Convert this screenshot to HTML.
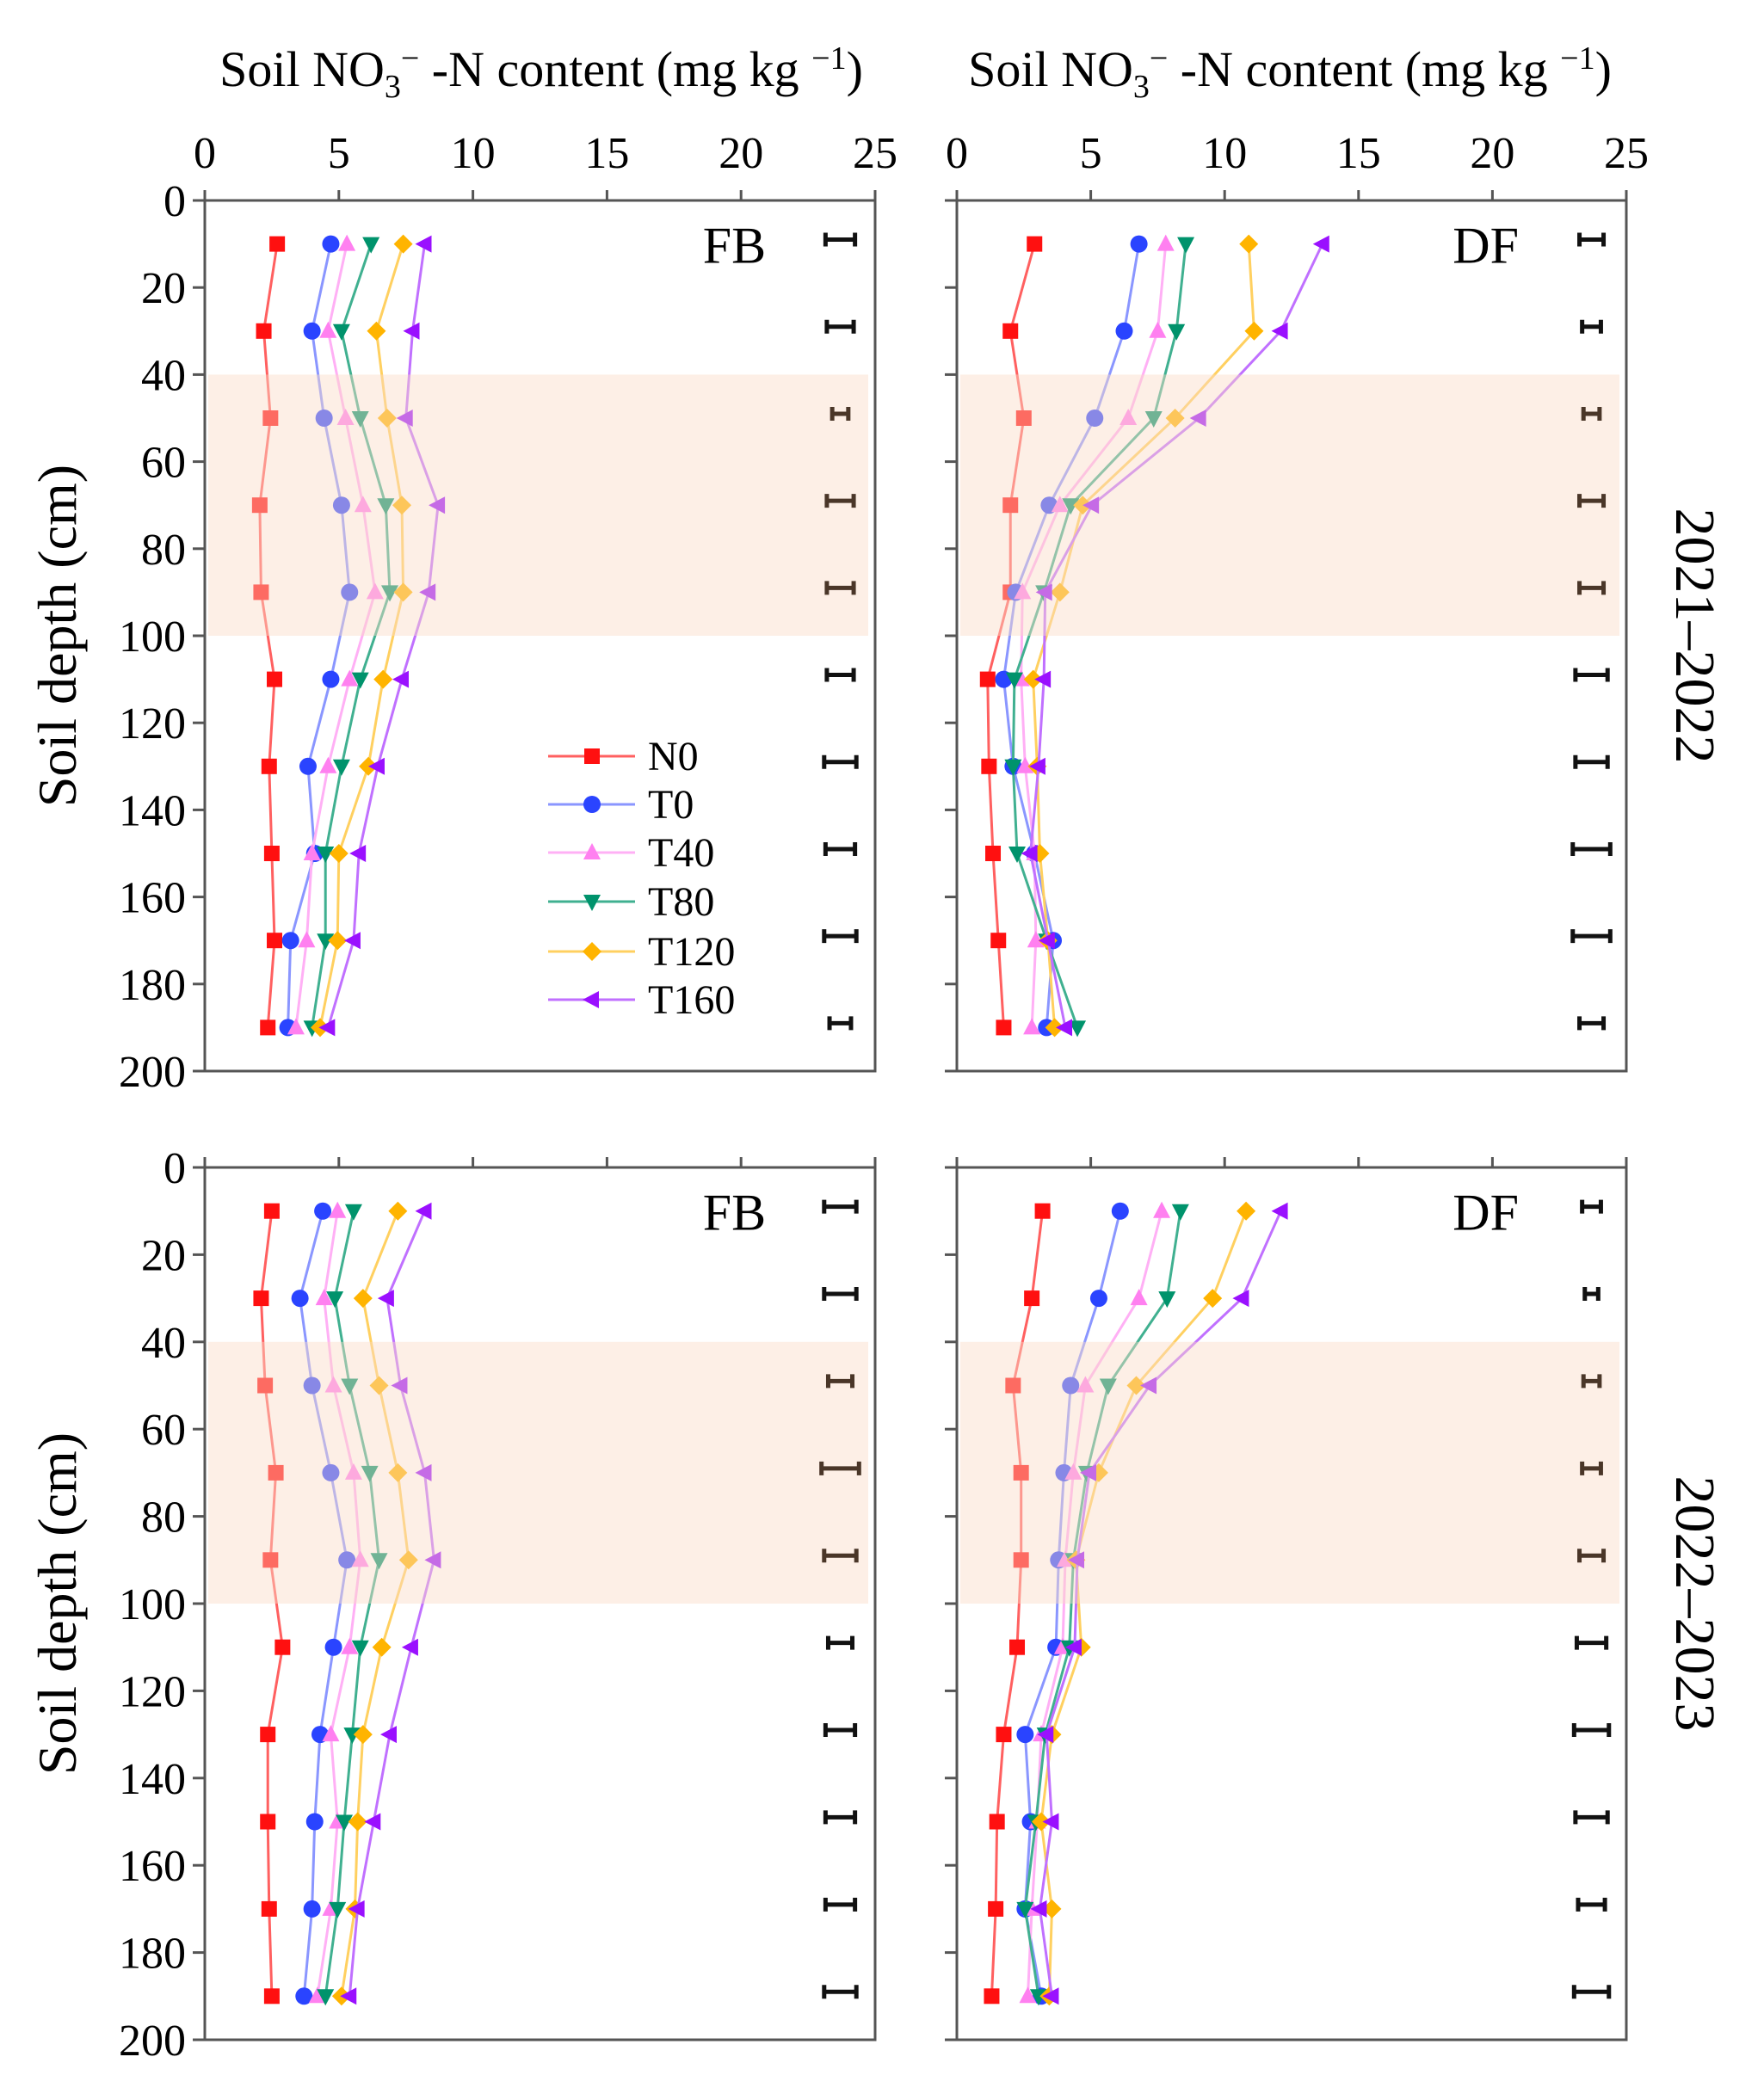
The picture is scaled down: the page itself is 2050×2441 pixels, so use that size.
<!DOCTYPE html>
<html><head><meta charset="utf-8"><style>
html,body{margin:0;padding:0;background:#fff;}
svg, svg text{font-family:"Liberation Serif","Times New Roman",serif;}
</style></head><body>
<svg id="chart" width="2050" height="2436" viewBox="0 0 2050 2436" xmlns="http://www.w3.org/2000/svg" font-family="Liberation Serif, serif">
<text x="629" y="100" font-size="58" text-anchor="middle">Soil NO<tspan font-size="38" dy="13">3</tspan><tspan font-size="38" dy="-33">−</tspan><tspan dy="20"> -N content (mg kg </tspan><tspan font-size="38" dy="-20">−1</tspan><tspan dy="20">)</tspan></text>
<text x="1499" y="100" font-size="58" text-anchor="middle">Soil NO<tspan font-size="38" dy="13">3</tspan><tspan font-size="38" dy="-33">−</tspan><tspan dy="20"> -N content (mg kg </tspan><tspan font-size="38" dy="-20">−1</tspan><tspan dy="20">)</tspan></text>
<text transform="translate(88,739) rotate(-90)" font-size="64" text-anchor="middle">Soil depth (cm)</text>
<text transform="translate(88,1864) rotate(-90)" font-size="64" text-anchor="middle">Soil depth (cm)</text>
<text transform="translate(1948,739) rotate(90)" font-size="66" text-anchor="middle">2021–2022</text>
<text transform="translate(1948,1864) rotate(90)" font-size="66" text-anchor="middle">2022–2023</text>
<g id="plots"></g>
</svg>
<script>
const depths = [10,30,50,70,90,110,130,150,170,190];
const xTicks = [0,5,10,15,20,25];
const yTicks = [0,20,40,60,80,100,120,140,160,180,200];
const seriesNames = ["N0","T0","T40","T80","T120","T160"];
// FB 2021-2022
const fb1_N0   = [2.7,2.2,2.45,2.05,2.1,2.6,2.4,2.5,2.6,2.35];
const fb1_T0   = [4.7,4.0,4.45,5.1,5.4,4.7,3.85,4.1,3.2,3.1];
const fb1_T40  = [5.3,4.6,5.25,5.9,6.35,5.4,4.6,4.0,3.8,3.4];
const fb1_T80  = [6.2,5.1,5.8,6.75,6.9,5.8,5.1,4.5,4.5,4.0];
const fb1_T120 = [7.4,6.4,6.8,7.35,7.4,6.65,6.1,5.0,4.95,4.3];
const fb1_T160 = [8.2,7.75,7.5,8.7,8.35,7.35,6.45,5.75,5.55,4.6];
const fb1_err  = [0.55,0.5,0.3,0.5,0.5,0.5,0.6,0.55,0.6,0.4];
// DF 2021-2022
const df1_N0   = [2.9,2.0,2.5,2.0,2.0,1.15,1.2,1.35,1.55,1.75];
const df1_T0   = [6.8,6.25,5.15,3.45,2.2,1.75,2.1,2.9,3.6,3.35];
const df1_T40  = [7.8,7.5,6.4,3.85,2.45,2.4,2.55,2.9,2.95,2.8];
const df1_T80  = [8.55,8.2,7.35,4.25,3.25,2.15,2.1,2.25,3.35,4.5];
const df1_T120 = [10.9,11.1,8.15,4.7,3.85,2.85,3.0,3.1,3.4,3.65];
const df1_T160 = [13.65,12.1,9.05,5.05,3.3,3.25,3.05,2.75,3.4,4.05];
const df1_err  = [0.45,0.35,0.3,0.45,0.45,0.6,0.6,0.7,0.7,0.45];
// FB 2022-2023
const fb2_N0   = [2.5,2.1,2.25,2.65,2.45,2.9,2.35,2.35,2.4,2.5];
const fb2_T0   = [4.4,3.55,4.0,4.7,5.3,4.8,4.3,4.1,4.0,3.7];
const fb2_T40  = [4.95,4.45,4.8,5.55,5.8,5.4,4.7,4.95,4.7,4.2];
const fb2_T80  = [5.55,4.85,5.4,6.15,6.5,5.8,5.5,5.2,4.95,4.5];
const fb2_T120 = [7.2,5.9,6.5,7.2,7.6,6.6,5.9,5.7,5.6,5.1];
const fb2_T160 = [8.2,6.8,7.3,8.2,8.55,7.7,6.9,6.3,5.7,5.4];
const fb2_err  = [0.6,0.6,0.45,0.7,0.6,0.45,0.55,0.55,0.55,0.6];
// DF 2022-2023
const df2_N0   = [3.2,2.8,2.1,2.4,2.4,2.25,1.75,1.5,1.45,1.3];
const df2_T0   = [6.1,5.3,4.25,4.0,3.8,3.7,2.55,2.75,2.55,3.15];
const df2_T40  = [7.65,6.8,4.8,4.35,4.05,3.95,3.15,3.0,2.8,2.65];
const df2_T80  = [8.35,7.85,5.65,4.85,4.35,4.2,3.3,2.95,2.55,3.05];
const df2_T120 = [10.8,9.55,6.7,5.3,4.45,4.65,3.55,3.15,3.55,3.45];
const df2_T160 = [12.1,10.65,7.2,4.95,4.5,4.4,3.35,3.55,3.1,3.55];
const df2_err  = [0.35,0.25,0.3,0.35,0.45,0.55,0.65,0.6,0.5,0.65];

const NS="http://www.w3.org/2000/svg";
const colors=["#ff1010","#2a44ff","#ff80f0","#00936c","#ffb400","#9a10ff"];
const lineColors=["#ff6060","#8a96ff","#ffb0f5","#40b090","#ffd060","#c070ff"];
function mk(tag,attrs,parent){const e=document.createElementNS(NS,tag);for(const k in attrs)e.setAttribute(k,attrs[k]);parent.appendChild(e);return e;}
const root=document.getElementById('plots');

function drawPanel(p){
  const g=mk('g',{},root);
  
  
  const sx=v=>p.x0+(v/25)*(p.x1-p.x0);
  const sy=d=>p.y0+(d/200)*(p.y1-p.y0);
  p.series.forEach((vals,si)=>{
    const sg=mk('g',{},g);
    
    
    mk('polyline',{points:vals.map((v,i)=>sx(v)+','+sy(depths[i])).join(' '),fill:'none',stroke:lineColors[si],'stroke-width':3},sg);
    vals.forEach((v,i)=>{
      const cx=sx(v),cy=sy(depths[i]),r=9,c=colors[si];let m;
      if(si===0)m=mk('rect',{x:cx-r,y:cy-r,width:2*r,height:2*r,fill:c},sg);
      else if(si===1)m=mk('circle',{cx:cx,cy:cy,r:r+1,fill:c},sg);
      else if(si===2)m=mk('polygon',{points:`${cx},${cy-r-2} ${cx+r+1},${cy+r-1} ${cx-r-1},${cy+r-1}`,fill:c},sg);
      else if(si===3)m=mk('polygon',{points:`${cx},${cy+r+2} ${cx+r+1},${cy-r+1} ${cx-r-1},${cy-r+1}`,fill:c},sg);
      else if(si===4)m=mk('polygon',{points:`${cx},${cy-r-2} ${cx+r+2},${cy} ${cx},${cy+r+2} ${cx-r-2},${cy}`,fill:c},sg);
      else m=mk('polygon',{points:`${cx-r-2},${cy} ${cx+r-1},${cy-r-1} ${cx+r-1},${cy+r+1}`,fill:c},sg);
      
      
    });
  });
  const band=mk('rect',{x:p.x0+4,y:sy(40),width:p.x1-p.x0-12,height:sy(100)-sy(40),fill:'rgb(250,219,199)','fill-opacity':0.45},g);
  
  
  p.err.forEach((e,i)=>{
    const cx=sx(23.7),cy=sy(depths[i]-1),hw=(e/25)*(p.x1-p.x0);
    const col=(depths[i]>40&&depths[i]<100)?'#4a3628':'#111';
    const eb=mk('path',{d:`M${cx-hw},${cy}H${cx+hw}M${cx-hw},${cy-8}V${cy+8}M${cx+hw},${cy-8}V${cy+8}`,stroke:col,'stroke-width':5,fill:'none'},g);
    
    
  });
  const fr=mk('rect',{x:p.x0,y:p.y0,width:p.x1-p.x0,height:p.y1-p.y0,fill:'none',stroke:'#555','stroke-width':3},g);
  
  
  xTicks.forEach(t=>{
    mk('line',{x1:sx(t),x2:sx(t),y1:p.y0,y2:p.y0-12,stroke:'#555','stroke-width':3},g);
    if(p.xlabels){const tx=mk('text',{x:sx(t),y:p.y0-38,'font-size':52,'text-anchor':'middle'},g);tx.textContent=t;
      
      }
  });
  yTicks.forEach(t=>{
    mk('line',{x1:p.x0,x2:p.x0-14,y1:sy(t),y2:sy(t),stroke:'#555','stroke-width':3},g);
    if(p.ylabels){const tx=mk('text',{x:p.x0-22,y:sy(t)+18,'font-size':52,'text-anchor':'end'},g);tx.textContent=t;
      
      }
  });
  const lab=mk('text',{x:p.x0+(p.x1-p.x0)*0.79,y:sy(10)+22,'font-size':60,'text-anchor':'middle'},g);
  lab.textContent=p.label;
  
  
}
drawPanel({name:'panel-fb-2021',key:'fb1',label:'FB',x0:238,x1:1017,y0:233,y1:1245,xlabels:true,ylabels:true,series:[fb1_N0,fb1_T0,fb1_T40,fb1_T80,fb1_T120,fb1_T160],err:fb1_err});
drawPanel({name:'panel-df-2021',key:'df1',label:'DF',x0:1112,x1:1890,y0:233,y1:1245,xlabels:true,ylabels:false,series:[df1_N0,df1_T0,df1_T40,df1_T80,df1_T120,df1_T160],err:df1_err});
drawPanel({name:'panel-fb-2022',key:'fb2',label:'FB',x0:238,x1:1017,y0:1357,y1:2371,xlabels:false,ylabels:true,series:[fb2_N0,fb2_T0,fb2_T40,fb2_T80,fb2_T120,fb2_T160],err:fb2_err});
drawPanel({name:'panel-df-2022',key:'df2',label:'DF',x0:1112,x1:1890,y0:1357,y1:2371,xlabels:false,ylabels:false,series:[df2_N0,df2_T0,df2_T40,df2_T80,df2_T120,df2_T160],err:df2_err});
const lg=mk('g',{},root);


const legY=[879,935,991,1048,1106,1162];
seriesNames.forEach((n,si)=>{
  const eg=mk('g',{},lg);
  
  
  const y=legY[si],cx=688,r=9,c=colors[si];
  mk('line',{x1:637,x2:738,y1:y,y2:y,stroke:lineColors[si],'stroke-width':3},eg);
  if(si===0)mk('rect',{x:cx-r,y:y-r,width:2*r,height:2*r,fill:c},eg);
  else if(si===1)mk('circle',{cx:cx,cy:y,r:r+1,fill:c},eg);
  else if(si===2)mk('polygon',{points:`${cx},${y-r-2} ${cx+r+1},${y+r-1} ${cx-r-1},${y+r-1}`,fill:c},eg);
  else if(si===3)mk('polygon',{points:`${cx},${y+r+2} ${cx+r+1},${y-r+1} ${cx-r-1},${y-r+1}`,fill:c},eg);
  else if(si===4)mk('polygon',{points:`${cx},${y-r-2} ${cx+r+2},${y} ${cx},${y+r+2} ${cx-r-2},${y}`,fill:c},eg);
  else mk('polygon',{points:`${cx-r-2},${y} ${cx+r-1},${y-r-1} ${cx+r-1},${y+r+1}`,fill:c},eg);
  const t=mk('text',{x:753,y:y+16,'font-size':48},eg);t.textContent=n;
});
</script>
</body></html>
